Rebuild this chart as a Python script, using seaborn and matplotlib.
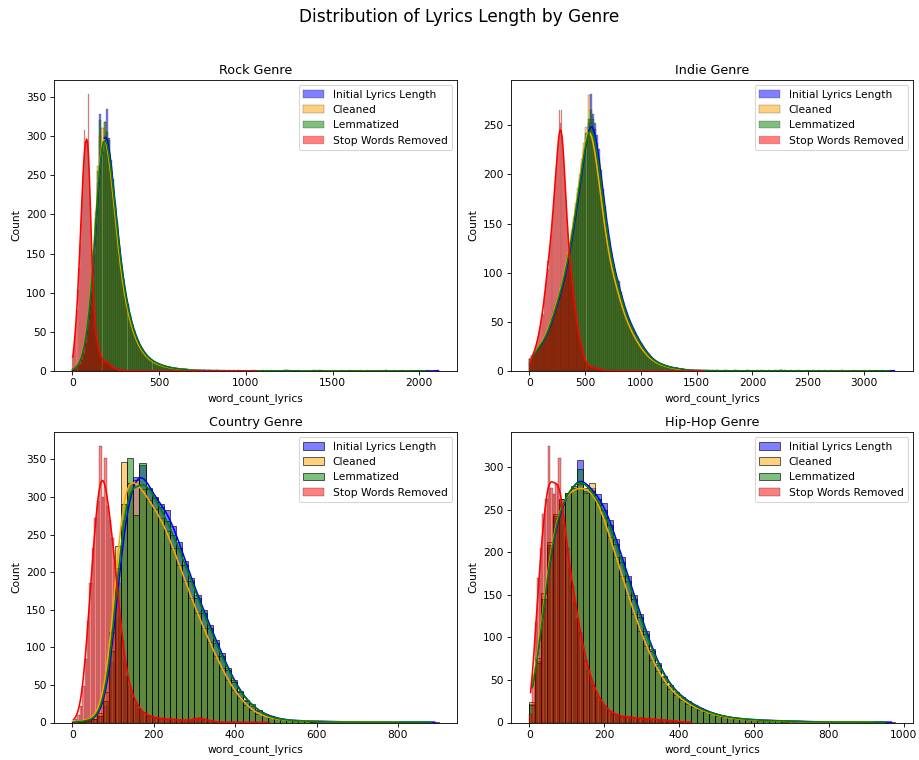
import numpy as np
import pandas as pd
import matplotlib
matplotlib.use("Agg")
import matplotlib.pyplot as plt
import seaborn as sns

# ---------------- data (histogram bin counts) ----------------
genres = ["Rock", "Indie", "Country", "Hip-Hop"]
series_labels = ["Initial Lyrics Length", "Cleaned", "Lemmatized", "Stop Words Removed"]
series_colors = ["blue", "orange", "green", "red"]
x_label = "word_count_lyrics"

# bin widths (words) for [initial, cleaned, lemmatized, stop words removed]
rock_bin_widths = [12, 12, 12, 6]
indie_bin_widths = [18, 18, 18, 8]
country_bin_widths = [15, 15, 15, 6]
hiphop_bin_widths = [16, 16, 16, 7]

# ---- Rock ----
rock_initial_counts = [2, 3, 5, 8, 13, 21, 34, 52, 76, 105, 140, 185, 240, 328, 285, 300, 335, 298, 270, 245,
                       215, 190, 160, 135, 115, 98, 85, 72, 60, 52, 45, 38, 32, 28, 24, 20, 18, 15, 13, 11,
                       10, 9, 8, 7, 6, 5, 5, 4, 4, 3, 3, 3, 2, 2, 2, 2, 1, 1]
rock_initial_tail = [705, 720, 740, 760, 790, 820, 850, 900, 960, 1050, 1150, 1230, 1300, 1420, 1550, 1700,
                     1850, 2000, 2110]
rock_cleaned_counts = [2, 3, 6, 9, 15, 24, 38, 58, 84, 115, 155, 205, 262, 300, 310, 318, 296, 280, 255, 228,
                       200, 172, 145, 122, 104, 90, 77, 65, 55, 47, 40, 34, 29, 25, 21, 18, 16, 13, 12, 10,
                       9, 8, 7, 6, 5, 5, 4, 4, 3, 3, 3, 2, 2, 2, 2, 1, 1, 1]
rock_cleaned_tail = [700, 715, 735, 760, 790, 830, 880, 950, 1040, 1120, 1230, 1380, 1500, 1660, 1800, 1950]
rock_lemmatized_counts = [2, 3, 5, 8, 14, 22, 36, 55, 80, 110, 148, 195, 255, 320, 280, 318, 305, 295, 262, 238,
                          210, 184, 156, 132, 112, 96, 83, 70, 59, 51, 44, 37, 31, 27, 23, 20, 17, 15, 13, 11,
                          10, 9, 8, 7, 6, 5, 5, 4, 4, 3, 3, 3, 2, 2, 2, 1, 1, 1]
rock_lemmatized_tail = [702, 718, 738, 760, 795, 830, 870, 930, 1000, 1100, 1220, 1240, 1400, 1430, 1600,
                        1800, 1900, 2040]
rock_stopwords_counts = [18, 28, 40, 57, 78, 103, 132, 164, 197, 228, 256, 308, 292, 297, 289, 354, 234, 194,
                         153, 114, 81, 54, 46, 40, 33, 27, 22, 18, 15, 13, 12, 12, 11, 11, 10, 9, 8, 6, 5, 4,
                         3, 3, 2, 2, 2, 1, 1, 1]
rock_stopwords_tail = [295, 305, 320, 340, 365, 390, 420, 460, 520, 600, 700, 820, 950, 1060]

# ---- Indie ----
indie_initial_counts = [12, 15, 18, 20, 23, 25, 28, 30, 33, 38, 45, 51, 58, 64, 70, 76, 84, 92, 99, 110,
                        122, 135, 147, 162, 176, 190, 205, 220, 238, 252, 282, 262, 252, 240, 226, 205, 185,
                        168, 150, 135, 122, 110, 100, 94, 92, 80, 71, 64, 58, 52, 48, 44, 40, 36, 32, 28, 25,
                        22, 19, 17, 14, 12, 10, 9, 8, 7, 6, 6, 5, 4, 4, 3, 3, 3, 2, 2, 2, 1, 1]
indie_initial_tail = [1430, 1460, 1500, 1540, 1600, 1680, 1750, 1850, 1950, 2050, 2150, 2250, 2350, 2500,
                      2650, 2800, 3000, 3150, 3270]
indie_cleaned_counts = [13, 16, 19, 22, 24, 27, 29, 32, 36, 42, 48, 55, 62, 68, 74, 81, 89, 97, 106, 118,
                        130, 143, 157, 171, 186, 200, 216, 232, 248, 281, 252, 242, 228, 215, 198, 180, 162,
                        146, 131, 118, 107, 98, 91, 86, 78, 70, 62, 56, 51, 46, 42, 38, 34, 30, 27, 24, 21,
                        18, 16, 14, 12, 10, 9, 8, 7, 6, 5, 5, 4, 4, 3, 3, 2, 2, 2, 1, 1]
indie_cleaned_tail = [1400, 1430, 1470, 1520, 1580, 1650, 1750, 1850, 1950, 2100, 2250, 2400, 2600, 2800, 3050]
indie_lemmatized_counts = [12, 15, 18, 21, 23, 26, 28, 31, 34, 40, 46, 53, 60, 66, 72, 79, 87, 95, 103, 114,
                           126, 139, 152, 166, 181, 195, 212, 226, 242, 256, 266, 256, 246, 232, 216, 195,
                           176, 160, 143, 129, 116, 105, 97, 93, 88, 77, 68, 61, 55, 50, 46, 42, 38, 34, 30,
                           27, 24, 21, 18, 16, 13, 11, 10, 9, 8, 7, 6, 5, 5, 4, 4, 3, 3, 3, 2, 2, 2, 1, 1]
indie_lemmatized_tail = [1440, 1470, 1510, 1550, 1610, 1690, 1770, 1870, 1970, 2080, 2200, 2250, 2300, 2420,
                         2550, 2700, 2900, 3100, 3230]
indie_stopwords_counts = [8, 10, 12, 15, 17, 19, 22, 25, 28, 31, 36, 41, 46, 51, 62, 58, 71, 79, 87, 96,
                          112, 104, 121, 129, 138, 148, 160, 172, 185, 197, 210, 222, 236, 266, 252, 248,
                          266, 238, 222, 203, 185, 166, 148, 131, 118, 110, 104, 98, 88, 78, 70, 62, 54, 48,
                          42, 37, 32, 28, 25, 21, 17, 13, 10, 8, 7, 6, 5, 5, 4, 4, 4, 3, 3, 3, 3, 3, 2, 2,
                          2, 2, 2, 2, 1]
indie_stopwords_tail = [670, 690, 710, 740, 770, 810, 850, 900, 960, 1020, 1100, 1200, 1350, 1560]

# ---- Country ----
country_initial_counts = [1, 1, 2, 4, 8, 22, 80, 185, 270, 318, 326, 343, 312, 300, 290, 282, 262, 240, 215,
                          192, 170, 150, 130, 110, 92, 72, 56, 42, 30, 22, 16, 11, 8, 6, 4, 3, 3, 2, 2, 2,
                          2, 1, 1, 1]
country_initial_tail = [670, 690, 720, 750, 790, 830, 860, 890]
country_cleaned_counts = [1, 2, 3, 5, 12, 40, 120, 235, 347, 318, 322, 310, 296, 284, 272, 255, 232, 210, 188,
                          166, 145, 126, 107, 89, 72, 56, 43, 32, 23, 16, 11, 8, 6, 4, 3, 3, 2, 2, 2, 1, 1, 1]
country_cleaned_tail = [640, 665, 695, 725, 765, 800]
country_lemmatized_counts = [1, 1, 2, 4, 9, 28, 95, 205, 290, 352, 276, 345, 310, 298, 286, 268, 250, 232, 210,
                             188, 166, 146, 126, 106, 88, 70, 54, 40, 29, 24, 15, 10, 7, 5, 4, 3, 2, 2, 2, 1,
                             1, 1]
country_lemmatized_tail = [645, 668, 698, 732, 772, 812, 850, 880]
country_stopwords_counts = [2, 5, 10, 22, 48, 85, 135, 185, 232, 272, 295, 368, 300, 352, 288, 270, 245, 212,
                            178, 140, 110, 82, 62, 48, 38, 30, 24, 18, 15, 12, 10, 9, 8, 7, 6, 6, 5, 5, 5, 4,
                            4, 4, 4, 3, 3, 3, 3, 3, 3, 4, 5, 6, 6, 5, 4, 3, 2, 2, 1, 1]
country_stopwords_tail = [370, 390, 420, 450, 480]

# ---- Hip-Hop ----
hiphop_initial_counts = [22, 72, 145, 205, 240, 258, 268, 275, 308, 272, 275, 268, 258, 238, 215, 195, 172,
                         150, 128, 108, 86, 70, 55, 44, 36, 30, 25, 21, 17, 14, 11, 9, 7, 6, 5, 4, 4, 3, 3,
                         3, 2, 2, 2, 2, 2, 1]
hiphop_initial_tail = [745, 760, 780, 800, 830, 860, 900, 930, 967]
hiphop_cleaned_counts = [24, 76, 152, 212, 245, 262, 270, 276, 280, 270, 281, 258, 240, 218, 194, 172, 150,
                         128, 108, 90, 74, 60, 48, 39, 32, 27, 22, 18, 15, 12, 10, 8, 6, 5, 4, 4, 3, 3, 2,
                         2, 2, 2, 1, 1]
hiphop_cleaned_tail = [715, 740, 770, 800, 840, 880, 920]
hiphop_lemmatized_counts = [20, 70, 145, 208, 243, 262, 270, 278, 298, 276, 272, 262, 250, 232, 210, 188, 166,
                            145, 124, 104, 84, 68, 54, 43, 35, 29, 24, 20, 16, 13, 11, 9, 7, 6, 5, 4, 4, 3,
                            3, 2, 2, 2, 2, 2, 1, 1]
hiphop_lemmatized_tail = [745, 765, 790, 820, 850, 880, 910, 950]
hiphop_stopwords_counts = [10, 55, 118, 170, 205, 245, 262, 325, 275, 268, 280, 311, 255, 232, 205, 182, 160,
                           142, 122, 106, 90, 74, 62, 52, 44, 36, 30, 25, 20, 17, 14, 12, 10, 9, 8, 7, 7, 6,
                           6, 6, 5, 5, 5, 5, 4, 4, 4, 4, 4, 3, 3, 3, 3, 2, 2, 2, 1, 1]
hiphop_stopwords_tail = [412, 420, 431]

panel_data = {
    "Rock": (rock_bin_widths,
             [(rock_initial_counts, rock_initial_tail), (rock_cleaned_counts, rock_cleaned_tail),
              (rock_lemmatized_counts, rock_lemmatized_tail), (rock_stopwords_counts, rock_stopwords_tail)]),
    "Indie": (indie_bin_widths,
              [(indie_initial_counts, indie_initial_tail), (indie_cleaned_counts, indie_cleaned_tail),
               (indie_lemmatized_counts, indie_lemmatized_tail), (indie_stopwords_counts, indie_stopwords_tail)]),
    "Country": (country_bin_widths,
                [(country_initial_counts, country_initial_tail), (country_cleaned_counts, country_cleaned_tail),
                 (country_lemmatized_counts, country_lemmatized_tail),
                 (country_stopwords_counts, country_stopwords_tail)]),
    "Hip-Hop": (hiphop_bin_widths,
                [(hiphop_initial_counts, hiphop_initial_tail), (hiphop_cleaned_counts, hiphop_cleaned_tail),
                 (hiphop_lemmatized_counts, hiphop_lemmatized_tail),
                 (hiphop_stopwords_counts, hiphop_stopwords_tail)]),
}

# ---------------- figure ----------------
DPI = 76.6
W, H = 919, 760
fig = plt.figure(figsize=(W / DPI, H / DPI), dpi=DPI)
boxes = [(54, 80, 457, 371), (511, 80, 913, 371), (54, 432, 457, 722.5), (511, 432, 913, 722.5)]
axes = [fig.add_axes([l / W, 1 - b / H, (r - l) / W, (b - t) / H]) for l, t, r, b in boxes]


def binned(counts, tail, width):
    counts = np.asarray(counts, dtype=float)
    centers = (np.arange(len(counts)) + 0.5) * width
    x = np.concatenate([centers, np.asarray(tail, dtype=float)])
    w = np.concatenate([counts, np.ones(len(tail))])
    n_bins = int(np.ceil(x.max() / width)) + (1 if x.max() % width == 0 else 0)
    top = n_bins * width
    n_total = w.sum()
    n_eff = w.sum() ** 2 / (w ** 2).sum()
    bw_adjust = (n_eff / n_total) ** 0.2  # mimic KDE of the raw observations
    df = pd.DataFrame({x_label: x, "n": w})
    return df, top, bw_adjust


for ax, genre in zip(axes, genres):
    widths, series = panel_data[genre]
    for (counts, tail), width, label, color in zip(series, widths, series_labels, series_colors):
        df, top, bwa = binned(counts, tail, width)
        sns.histplot(data=df, x=x_label, weights="n", binwidth=width, binrange=(0, top), kde=True,
                     color=color, label=label, ax=ax, kde_kws={"bw_adjust": bwa})
    ax.set_title(f"{genre} Genre")
    ax.set_xlabel(x_label)
    ax.set_ylabel("Count")
    ax.legend(loc="upper right")

fig.suptitle("Distribution of Lyrics Length by Genre", fontsize=16, y=0.99)
fig.savefig("out.png", dpi=DPI)
